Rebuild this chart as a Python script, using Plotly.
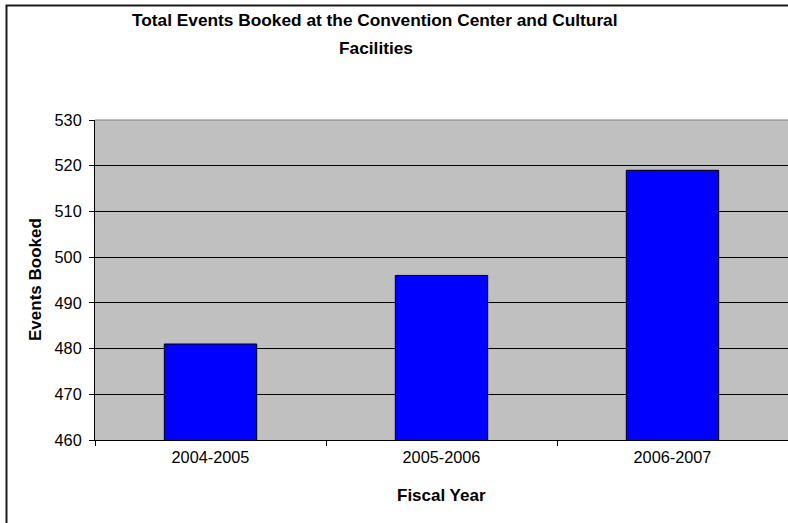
import plotly.graph_objects as go

# Events booked per fiscal year
fiscal_years = ["2004-2005", "2005-2006", "2006-2007"]
events_booked = [481, 496, 519]
y_ticks = [460, 470, 480, 490, 500, 510, 520, 530]

W, H = 788, 523
L, T, B, R = 95, 120, 83, 0
plot_w = W - L - R
plot_h = H - T - B


def px_x(px):
    return (px - L) / plot_w


def px_y(py):
    return (H - B - py) / plot_h


FONT = "Liberation Sans, Arial, sans-serif"

fig = go.Figure(
    go.Bar(
        x=fiscal_years,
        y=events_booked,
        marker=dict(color="#0000FF", line=dict(color="#000000", width=1)),
        hoverinfo="x+y",
    )
)

fig.update_layout(
    width=W,
    height=H,
    margin=dict(l=L, r=R, t=T, b=B),
    paper_bgcolor="#FFFFFF",
    plot_bgcolor="#C0C0C0",
    bargap=0.6,
    showlegend=False,
    font=dict(family=FONT, color="#000000"),
)

fig.update_xaxes(
    type="category",
    tickson="boundaries",
    ticks="outside",
    ticklen=5,
    tickcolor="#000000",
    showline=True,
    linecolor="#000000",
    linewidth=1,
    showgrid=False,
    ticklabelstandoff=2,
    tickfont=dict(family=FONT, size=16.3, color="#000000"),
)

fig.update_yaxes(
    range=[460, 530],
    tickvals=y_ticks,
    ticks="outside",
    ticklen=5,
    tickcolor="#000000",
    showline=True,
    linecolor="#000000",
    linewidth=1,
    showgrid=True,
    gridcolor="#000000",
    gridwidth=1,
    zeroline=False,
    ticklabelstandoff=4,
    tickfont=dict(family=FONT, size=16.3, color="#000000"),
)

annotations = [
    dict(text="<b>Total Events Booked at the Convention Center and Cultural</b>",
         x=px_x(375), y=px_y(20), font=dict(size=17.3)),
    dict(text="<b>Facilities</b>", x=px_x(375.6), y=px_y(47.5), font=dict(size=17.3)),
    dict(text="<b>Fiscal Year</b>", x=px_x(442), y=px_y(495.5), font=dict(size=17)),
    dict(text="<b>Events Booked</b>", x=px_x(35), y=px_y(280), font=dict(size=17),
         textangle=-90),
]
for a in annotations:
    a.update(xref="paper", yref="paper", xanchor="center", yanchor="middle",
             showarrow=False)
    a["font"].update(family=FONT, color="#000000")
fig.update_layout(annotations=annotations)

# Outer chart-area frame and grey top edge of the plot area
fig.add_shape(type="rect", xref="paper", yref="paper",
              x0=px_x(6.5), x1=px_x(800), y0=px_y(540), y1=px_y(5.5),
              line=dict(color="#1A1A1A", width=2), fillcolor="rgba(0,0,0,0)",
              layer="above")
fig.add_shape(type="line", xref="paper", yref="paper",
              x0=0, x1=1, y0=1, y1=1,
              line=dict(color="#808080", width=1), layer="above")

fig.write_html("out.html")
